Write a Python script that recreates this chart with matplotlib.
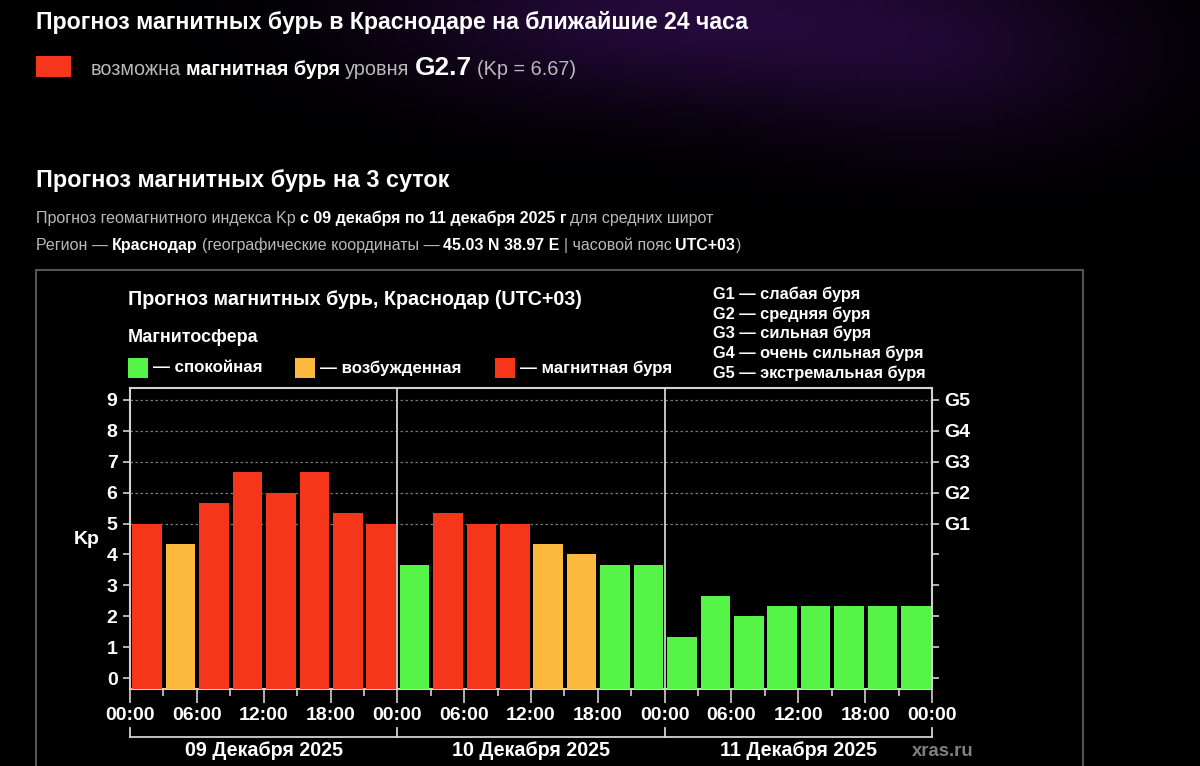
import matplotlib
matplotlib.use("Agg")
import matplotlib.pyplot as plt
import matplotlib.transforms as mtransforms
import numpy as np
from matplotlib.lines import Line2D
from matplotlib.patches import Rectangle

plt.rcParams["font.family"] = ["Liberation Sans", "DejaVu Sans"]

W, H = 1200, 766

# data
days = ["09 Декабря 2025", "10 Декабря 2025", "11 Декабря 2025"]
hour_labels = ["00:00", "06:00", "12:00", "18:00"]
kp_values = [5.0, 4.33, 5.67, 6.67, 6.0, 6.67, 5.33, 5.0,
             3.67, 5.33, 5.0, 5.0, 4.33, 4.0, 3.67, 3.67,
             1.33, 2.67, 2.0, 2.33, 2.33, 2.33, 2.33, 2.33]
g_labels = ["G1", "G2", "G3", "G4", "G5"]
g_levels = [5, 6, 7, 8, 9]
g_names = ["слабая буря", "средняя буря", "сильная буря",
           "очень сильная буря", "экстремальная буря"]
state_names = ["спокойная", "возбужденная", "магнитная буря"]
state_colors = ["#55f447", "#fdb93d", "#f5361a"]

SPINE = "#d2d2d2"
GRAY = "#b9b9b9"


def fx(x):
    return x / W


def fy(y):
    return 1 - y / H


def kp_color(v):
    if v >= 5:
        return state_colors[2]
    if v >= 4:
        return state_colors[1]
    return state_colors[0]


fig = plt.figure(figsize=(W / 100, H / 100), dpi=100, facecolor="black")
renderer = fig.canvas.get_renderer()

# faint purple glow in the page background
bg = fig.add_axes([0, 0, 1, 1], zorder=-10)
gx, gy = np.meshgrid(np.linspace(0, W, 240), np.linspace(0, H, 153))
glow = (0.9 * np.exp(-(((gx - 650) / 260) ** 2 + ((gy - 10) / 90) ** 2))
        + 0.6 * np.exp(-(((gx - 950) / 200) ** 2 + ((gy - 50) / 100) ** 2)))
img = np.zeros(gx.shape + (3,))
img[..., 0] = 0.15 * glow
img[..., 1] = 0.04 * glow
img[..., 2] = 0.24 * glow
bg.imshow(np.clip(img, 0, 1), extent=[0, 1, 0, 1], aspect="auto")
bg.axis("off")


def text_run(x, y, parts, gap=4):
    # parts: (text, size, bold, color[, gap before])
    for i, p in enumerate(parts):
        s, size, bold, color = p[:4]
        if i:
            x += p[4] if len(p) > 4 else gap
        t = fig.text(fx(x), fy(y), s, fontsize=size, color=color,
                     fontweight="bold" if bold else "normal", va="baseline")
        x += t.get_window_extent(renderer).width


# page header
fig.text(fx(36), fy(22), "Прогноз магнитных бурь в Краснодаре на ближайшие 24 часа",
         fontsize=16.7, fontweight="bold", color="white", va="center")
fig.add_artist(Rectangle((fx(36), fy(77)), 35 / W, 21 / H, transform=fig.transFigure,
                         facecolor=state_colors[2], edgecolor="none"))
text_run(91, 75, [("возможна", 14.3, False, GRAY),
                  ("магнитная буря", 14.3, True, "white"),
                  ("уровня", 14.3, False, GRAY),
                  ("G2.7", 19, True, "white"),
                  ("(Kp = 6.67)", 14.3, False, GRAY)], gap=5)

fig.text(fx(36), fy(181), "Прогноз магнитных бурь на 3 суток",
         fontsize=16.8, fontweight="bold", color="white", va="center")
text_run(36, 223, [("Прогноз геомагнитного индекса Kp", 11.5, False, GRAY),
                   ("с 09 декабря по 11 декабря 2025 г", 11.5, True, "white"),
                   ("для средних широт", 11.5, False, GRAY)], gap=4)
text_run(36, 250, [("Регион —", 11.5, False, GRAY),
                   ("Краснодар", 11.5, True, "white"),
                   ("(географические координаты —", 11.5, False, GRAY),
                   ("45.03 N 38.97 E", 11.5, True, "white"),
                   ("| часовой пояс", 11.5, False, GRAY),
                   ("UTC+03", 11.5, True, "white"),
                   (")", 11.5, False, GRAY, 0.5)], gap=4)

# chart frame
fig.add_artist(Rectangle((fx(36), fy(800)), (1083 - 36) / W, (800 - 270) / H,
                         transform=fig.transFigure, facecolor="none",
                         edgecolor="#555555", linewidth=1.5))

fig.text(fx(128), fy(300), "Прогноз магнитных бурь, Краснодар (UTC+03)",
         fontsize=14.2, fontweight="bold", color="white", va="center")
fig.text(fx(128), fy(338), "Магнитосфера",
         fontsize=13, fontweight="bold", color="white", va="center")
for sx, name, col in zip([128, 295, 495], state_names, state_colors):
    fig.add_artist(Rectangle((fx(sx), fy(378)), 20 / W, 20 / H, transform=fig.transFigure,
                             facecolor=col, edgecolor="none"))
    fig.text(fx(sx + 25), fy(368), "— " + name, fontsize=12.2, fontweight="bold",
             color="white", va="center")
for i, (g, name) in enumerate(zip(g_labels, g_names)):
    fig.text(fx(713), fy(294 + 19.8 * i), g + " — " + name, fontsize=11.8,
             fontweight="bold", color="white", va="center")

# chart
ax = fig.add_axes([fx(130), fy(689), (932 - 130) / W, (689 - 388) / H])
ax.set_facecolor("black")
y0 = -0.356
ax.set_xlim(0, 24 * len(days))
ax.set_ylim(y0, 9.388)

starts = np.arange(len(kp_values)) * 3 + 0.22
heights = np.array(kp_values) - y0
ax.bar(starts, heights, bottom=y0, width=2.66, align="edge",
       color=[kp_color(v) for v in kp_values], zorder=3)

for lv in g_levels:
    ax.axhline(lv, color="#7a7a7a", linewidth=0.9, linestyle=(0, (2, 2)), zorder=1)
for d in range(1, len(days)):
    ax.axvline(24 * d, color=SPINE, linewidth=1.3, zorder=4)

for sp in ax.spines.values():
    sp.set_color(SPINE)
    sp.set_linewidth(1.5)

ax.set_yticks(range(10))
ax.set_yticklabels([str(i) for i in range(10)])
ax.tick_params(axis="y", colors=SPINE, labelcolor="white", labelsize=14,
               length=5, width=1.2, pad=4)
for lbl in ax.get_yticklabels():
    lbl.set_fontweight("bold")

ax.set_xticks(range(0, 24 * len(days) + 1, 6))
ax.set_xticklabels(hour_labels * len(days) + [hour_labels[0]])
ax.set_xticks(range(3, 24 * len(days), 6), minor=True)
ax.tick_params(axis="x", which="major", colors=SPINE, labelcolor="white",
               labelsize=14, length=10, width=1.2, pad=3)
ax.tick_params(axis="x", which="minor", colors=SPINE, length=5, width=1.2)
for lbl in ax.get_xticklabels():
    lbl.set_fontweight("bold")

ax2 = ax.twinx()
ax2.set_ylim(ax.get_ylim())
ax2.set_yticks(range(10))
ax2.set_yticklabels([""] * 5 + g_labels)
ax2.tick_params(axis="y", colors=SPINE, labelcolor="white", labelsize=14,
                length=5, width=1.2, pad=4)
for lbl in ax2.get_yticklabels():
    lbl.set_fontweight("bold")
for sp in ax2.spines.values():
    sp.set_visible(False)

fig.text(fx(87), fy(540), "Kp", fontsize=14, fontweight="bold", color="white",
         ha="center", va="center")

# day brackets under the axis
trans = mtransforms.blended_transform_factory(ax.transData, fig.transFigure)
total = 24 * len(days)
fig.add_artist(Line2D([0, total], [fy(737), fy(737)], transform=trans,
                      color=SPINE, linewidth=1.3))
for d in range(len(days) + 1):
    fig.add_artist(Line2D([24 * d, 24 * d], [fy(728), fy(737)], transform=trans,
                          color=SPINE, linewidth=1.3))
for d, name in enumerate(days):
    fig.text(24 * d + 12, fy(751), name, transform=trans, fontsize=14.2,
             fontweight="bold", color="white", ha="center", va="center")
fig.text(fx(912), fy(751), "xras.ru", fontsize=13.3, fontweight="bold",
         color="#808080", va="center")

fig.savefig("out.png", dpi=100, facecolor="black")
